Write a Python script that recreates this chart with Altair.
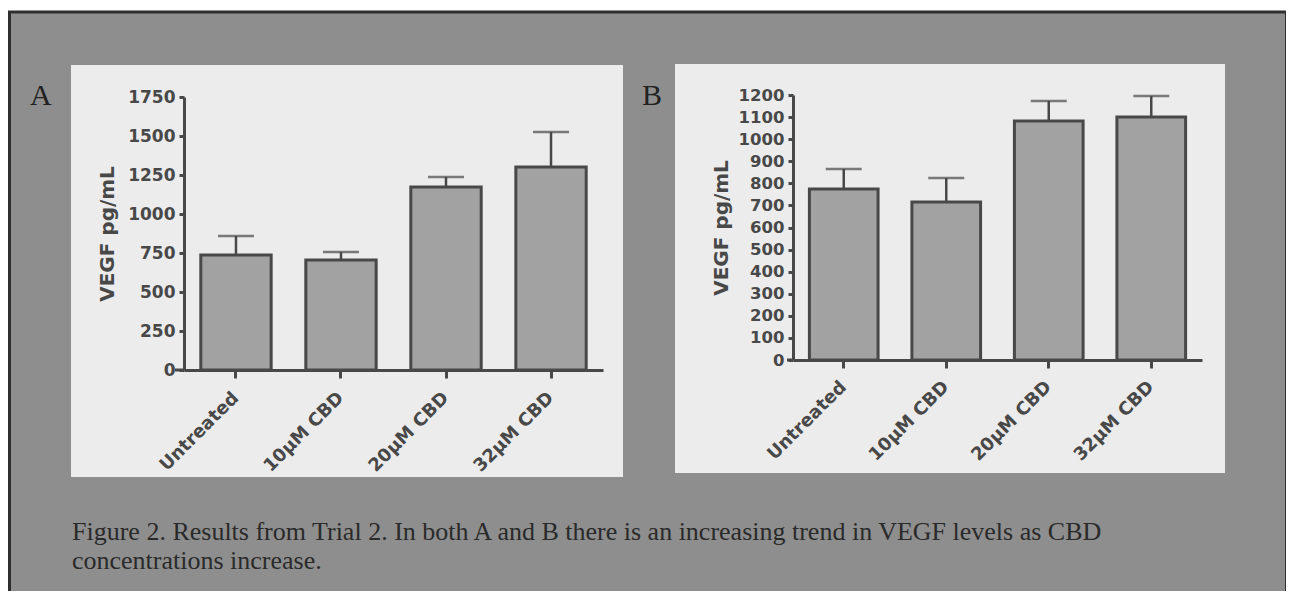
import altair as alt
import pandas as pd

# ---------------- data ----------------
categories = ["Untreated", "10µM CBD", "20µM CBD", "32µM CBD"]
a_mean = [737, 705, 1173, 1301]
a_err = [122, 51, 64, 225]
b_mean = [774, 716, 1082, 1100]
b_err = [91, 108, 91, 95]
a_ticks = [0, 250, 500, 750, 1000, 1250, 1500, 1750]
b_ticks = [0, 100, 200, 300, 400, 500, 600, 700, 800, 900, 1000, 1100, 1200]
panel_letters = ["A", "B"]
caption_lines = [
    "Figure 2. Results from Trial 2. In both A and B there is an increasing trend in VEGF levels as CBD",
    "concentrations increase.",
]
y_title = "VEGF pg/mL"

# ---------------- style ----------------
W, H = 1278, 583
OUTER = "#8e8e8e"
PANEL = "#ececec"
INK = "#484848"
BAR = "#a2a2a2"
AXFONT = "DejaVu Sans"
SERIF = "Liberation Serif"

one = pd.DataFrame({"k": [0]})


def panel(mean, err, dom, ticks, xr, yr, xoff, yoff, title_x, title_y, ylab_size, lab_pad):
    df = pd.DataFrame({
        "cat": categories,
        "mean": mean,
        "upper": [m + e for m, e in zip(mean, err)],
    })
    xaxis = alt.Axis(
        orient="bottom", offset=xoff, title=None, labelAngle=-45, zindex=2,
        labelAlign="right", labelBaseline="middle", labelPadding=lab_pad,
        labelFont=AXFONT, labelFontWeight="bold", labelFontSize=18,
        labelColor=INK, labelOverlap=False, labelLimit=300,
        domainColor=INK, domainWidth=3, tickColor=INK, tickWidth=3, tickSize=8,
    )
    yaxis = alt.Axis(
        orient="left", offset=yoff, values=ticks, format="d", grid=False, zindex=2,
        title=y_title, titleFont=AXFONT, titleFontWeight="bold", titleFontSize=20,
        titleColor=INK, titleX=title_x, titleY=title_y, titleAngle=-90,
        titleAlign="center", titleBaseline="bottom",
        labelFont=AXFONT, labelFontWeight="bold", labelFontSize=ylab_size,
        labelColor=INK, labelPadding=4, labelOverlap=False,
        domainColor=INK, domainWidth=3, tickColor=INK, tickWidth=3, tickSize=5,
    )
    xs = alt.Scale(domain=categories, range=xr, paddingInner=0.33, paddingOuter=0.16)
    ys = alt.Scale(domain=dom, range=yr, nice=False, zero=True)
    X = alt.X("cat:N", sort=categories, scale=xs, axis=xaxis)

    err_rule = alt.Chart(df).mark_rule(color=INK, strokeWidth=2.5).encode(
        x=X, y=alt.Y("mean:Q", scale=ys, axis=yaxis), y2="upper:Q")
    cap = alt.Chart(df).mark_tick(color=INK, size=36, thickness=2.5).encode(
        x=X, y=alt.Y("upper:Q", scale=ys, axis=yaxis))
    bars = alt.Chart(df).mark_bar(fill=BAR, stroke=INK, strokeWidth=3).encode(
        x=X, y=alt.Y("mean:Q", scale=ys, axis=yaxis))
    return alt.layer(err_rule, cap, bars)


def box(x1, x2, y1, y2, **kw):
    return alt.Chart(one).mark_rect(**kw).encode(
        x=alt.value(x1), x2=alt.value(x2), y=alt.value(y1), y2=alt.value(y2))


def label(txt, x, y, size, **kw):
    return alt.Chart(one).mark_text(
        text=txt, font=SERIF, fontSize=size, align="left", baseline="alphabetic", **kw
    ).encode(x=alt.value(x), y=alt.value(y))


def hrule(x1, x2, y):
    return alt.Chart(one).mark_rule(color=INK, strokeWidth=3).encode(
        x=alt.value(x1), x2=alt.value(x2), y=alt.value(y))


frame = box(1.5, 1278.5, 4, 600, fill=OUTER, stroke="#2e2e2e", strokeWidth=3)
bgA = box(63, 615, 57, 469, fill=PANEL)
bgB = box(667, 1217, 56, 465, fill=PANEL)
letA = label(panel_letters[0], 22, 97, 30, color="#222222")
letB = label(panel_letters[1], 634, 97, 30, color="#222222")
cap1 = label(caption_lines[0], 64, 532, 26, color="#2a2a2a")
cap2 = label(caption_lines[1], 64, 561, 26, color="#2a2a2a")
extA = hrule(167, 176, 362)
extB = hrule(779, 785, 352)

pA = panel(a_mean, a_err, [0, 1750], a_ticks, [176, 595], [362, 89],
           -(H - 362), -176, -67, 225.5, 17, 17)
pB = panel(b_mean, b_err, [0, 1200], b_ticks, [785, 1194], [352, 87],
           -(H - 352), -785, -62, 219.5, 16.5, 16)

chart = alt.layer(
    frame, bgA, bgB, letA, letB, cap1, cap2, extA, extB, pA, pB
).resolve_scale(x="independent", y="independent").properties(
    width=W, height=H, padding=0, background="white",
    autosize=alt.AutoSizeParams(type="none"),
).configure_view(stroke=None)

chart.save("out.html", embed_options={"renderer": "svg", "actions": False})
